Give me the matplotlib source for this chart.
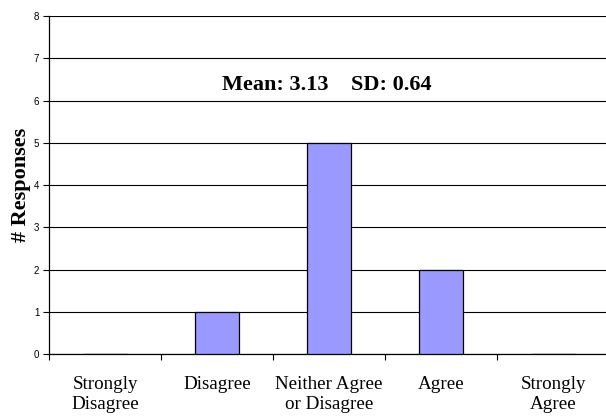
import matplotlib
matplotlib.use("Agg")
from matplotlib import pyplot as plt
import numpy as np

categories = ["Strongly\nDisagree", "Disagree", "Neither Agree\nor Disagree", "Agree", "Strongly\nAgree"]
responses = [0, 1, 5, 2, 0]
stats_text = "Mean: 3.13    SD: 0.64"


def main():
    fig = plt.figure(figsize=(6.06, 4.17), dpi=100)
    ax = fig.add_axes([49 / 606, 1 - 354 / 417, 560 / 606, 338 / 417])

    x = np.arange(len(categories))
    ax.bar(x, responses, width=0.4, color="#9999FF", edgecolor="black", linewidth=0.9, zorder=3)

    ax.set_xlim(-0.5, len(categories) - 0.5)
    ax.set_ylim(0, 8)
    ax.set_yticks(range(0, 9))
    ax.yaxis.grid(True, color="black", linewidth=0.8, zorder=0)
    ax.set_axisbelow(True)

    ax.set_xticks(x)
    ax.set_xticklabels(categories, fontfamily="Liberation Serif", fontsize=13.7, linespacing=1.3)
    ax.set_xticks(np.arange(-0.5, len(categories), 1), minor=True)
    ax.tick_params(axis="x", which="major", length=0, pad=15.5)
    ax.tick_params(axis="x", which="minor", length=4, width=0.8, direction="out")
    ax.tick_params(axis="y", length=4, width=0.8, labelsize=7, pad=3)
    for lbl in ax.get_yticklabels():
        lbl.set_fontfamily("Liberation Sans")

    for side in ["top", "right"]:
        ax.spines[side].set_visible(False)
    ax.spines["left"].set_linewidth(0.9)
    ax.spines["bottom"].set_linewidth(0.9)

    ax.set_ylabel("# Responses", fontfamily="Liberation Serif", fontsize=16, fontweight="bold")
    ax.yaxis.set_label_coords(-0.033, 0.5)
    ax.text(1.98, 6.36, stats_text, ha="center", va="center",
            fontfamily="Liberation Serif", fontsize=16, fontweight="bold")

    fig.savefig("out.png", dpi=100)
    plt.close(fig)


if __name__ == "__main__":
    main()
